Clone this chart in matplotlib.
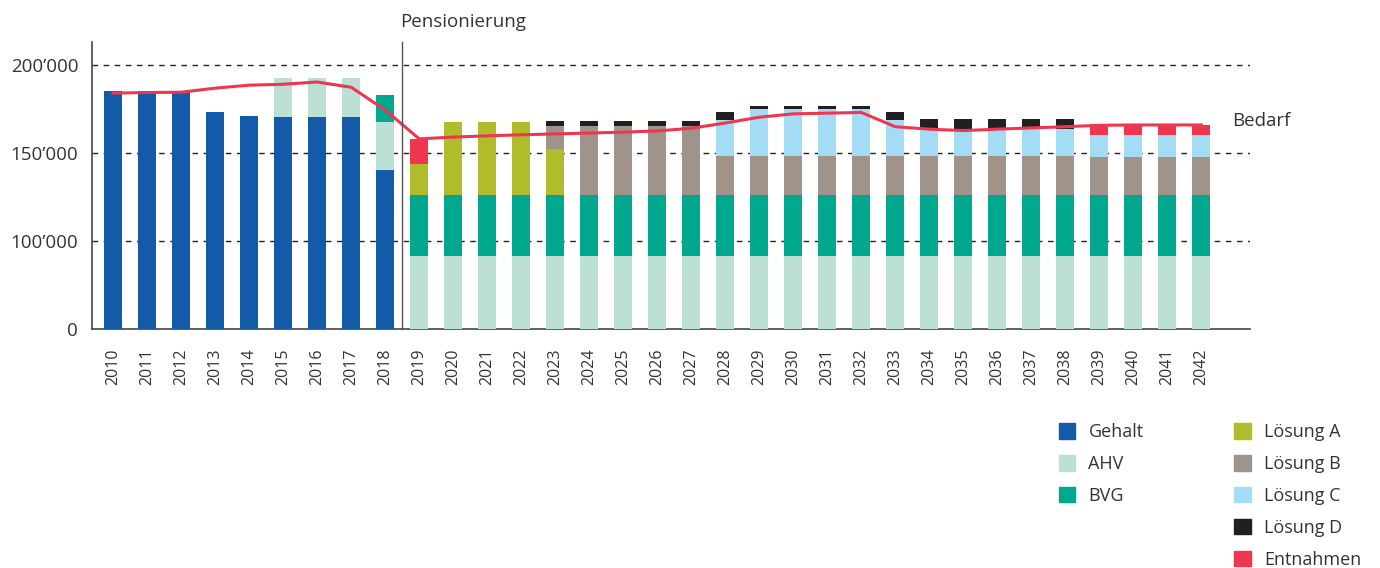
import numpy as np
import matplotlib
matplotlib.use("Agg")
import matplotlib.pyplot as plt
from matplotlib.patches import Patch

plt.rcParams['font.family'] = ['Open Sans', 'DejaVu Sans']

years = [str(y) for y in range(2010, 2043)]

# stacked segment heights (CHF per year), 2010..2042
gehalt = [185000, 185000, 185000, 173000, 171000, 170600, 170600, 170600, 140300] + [0] * 24
ahv = [0] * 5 + [22000, 22000, 22000, 27500] + [83300] * 24
bvg = [0] * 8 + [15200] + [42800] * 24
loesung_a = [0] * 9 + [17600, 41500, 41500, 41500, 26200] + [0] * 19
loesung_b = [0] * 13 + [13000] + [39200] * 4 + [22200] * 11 + [21600] * 4
loesung_c = [0] * 18 + [20450] + [26700] * 4 + [20450] + [15300] * 5 + [12500] * 4
loesung_d = [0] * 13 + [2900] * 5 + [4550] + [1700] * 4 + [4550] + [5700] * 5 + [0] * 4
entnahmen = [0] * 9 + [14250] + [0] * 19 + [5700] * 4

bedarf = [184000, 184300, 184500, 186800, 188500, 189000, 190300, 187300, 174400,
          158000, 159000, 159700, 160300, 160800, 161300, 161800, 162500, 164000,
          167000, 170300, 172200, 172600, 173000, 164900, 163500, 162700, 163500,
          164200, 164900, 165700, 165900, 165900, 165900]

series = [
    ("Gehalt", gehalt, "#135ba9"),
    ("AHV", ahv, "#bde0d4"),
    ("BVG", bvg, "#00a98e"),
    ("Lösung A", loesung_a, "#b1bc2c"),
    ("Lösung B", loesung_b, "#a09389"),
    ("Lösung C", loesung_c, "#a5dcf5"),
    ("Lösung D", loesung_d, "#231f20"),
    ("Entnahmen", entnahmen, "#ee3650"),
]

yticks = [0, 100000, 150000, 200000]
ytick_labels = ["0", "100\u2019000", "150\u2019000", "200\u2019000"]


def fwd(y):
    y = np.asarray(y, dtype=float)
    return np.where(y < 100000, y / 2, y - 50000)


def inv(u):
    u = np.asarray(u, dtype=float)
    return np.where(u < 50000, u * 2, u + 50000)


fig = plt.figure(figsize=(13.8, 5.68), dpi=100)
ax = fig.add_axes([0.0667, 0.4208, 0.8393, 0.5052])
ax.set_yscale('function', functions=(fwd, inv))

x = np.arange(len(years))
bottom = np.zeros(len(years))
for name, vals, col in series:
    vals = np.array(vals, dtype=float)
    ax.bar(x, vals, 0.53, bottom=bottom, color=col, zorder=3)
    bottom = bottom + vals

ax.plot(x, bedarf, color="#ee3650", lw=2.2, zorder=4)

ax.set_ylim(0, 213000)
ax.set_xlim(-0.62, 33.44)
ax.set_yticks(yticks)
ax.set_yticklabels(ytick_labels)
ax.set_xticks(x)
ax.set_xticklabels(years, rotation=90)
ax.tick_params(length=0, colors="#333333")
ax.tick_params(axis='y', labelsize=13.5, pad=10)
ax.tick_params(axis='x', labelsize=11.5, pad=14)
for t in yticks[1:]:
    ax.axhline(t, color="#222222", lw=1, ls=(0, (4, 4)), zorder=1)

for s in ["top", "right"]:
    ax.spines[s].set_visible(False)
for s in ["left", "bottom"]:
    ax.spines[s].set_color("#444444")
    ax.spines[s].set_linewidth(1.2)

ax.axvline(8.5, color="#555555", lw=1, zorder=5, clip_on=False)
ax.text(8.45, 1.07, "Pensionierung", transform=ax.get_xaxis_transform(),
        fontsize=13.5, color="#333333", va="center", ha="left")
ax.text(32.9, 168000, "Bedarf", fontsize=13.5, color="#333333", va="center", ha="left")

handles = [Patch(color=col, label=name) for name, vals, col in series]
leg_kw = dict(frameon=False, fontsize=13, handlelength=0.94, handleheight=0.94,
              handletextpad=0.72, labelspacing=0.77, borderpad=0, labelcolor="#333333")
fig.legend(handles=handles[:3], loc="upper left", bbox_to_anchor=(0.7605, 0.271), **leg_kw)
fig.legend(handles=handles[3:], loc="upper left", bbox_to_anchor=(0.888, 0.271), **leg_kw)

fig.savefig("out.png", dpi=100)
